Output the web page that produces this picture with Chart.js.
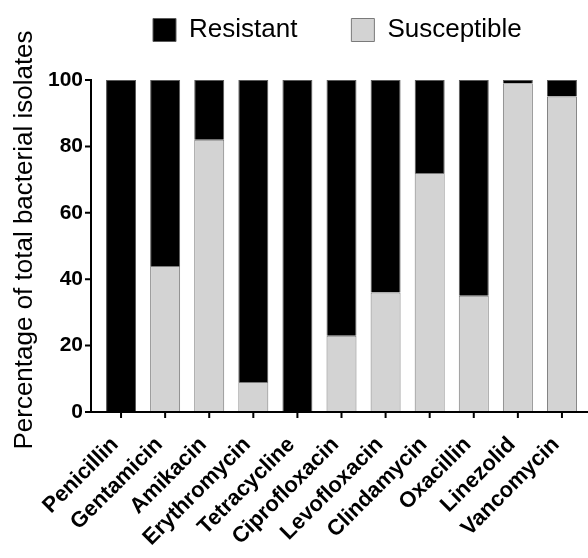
<!DOCTYPE html>
<html>
<head>
<meta charset="utf-8">
<script src="https://cdn.jsdelivr.net/npm/chart.js@4.4.1/dist/chart.umd.min.js"></script>
<style>
  html, body { margin: 0; padding: 0; background: #fff; }
  canvas { display: block; }
</style>
</head>
<body>
<canvas id="chart" width="588" height="558"></canvas>
<script>
// values (percent of isolates)
const antibiotics = ['Penicillin', 'Gentamicin', 'Amikacin', 'Erythromycin', 'Tetracycline',
  'Ciprofloxacin', 'Levofloxacin', 'Clindamycin', 'Oxacillin', 'Linezolid', 'Vancomycin'];
const susceptible = [0, 44, 82, 9, 0, 23, 36, 72, 35, 99, 95];
const resistant = [100, 56, 18, 91, 100, 77, 64, 28, 65, 1, 5];
const yTitle = 'Percentage of total bacterial isolates';

const FONT = '"Liberation Sans", Arial, Helvetica, sans-serif';
Chart.defaults.font.family = FONT;
Chart.defaults.color = '#000';

// Prism style axes: y axis sits a little left of the first bar
const prismAxes = {
  id: 'prismAxes',
  afterDatasetsDraw(chart) {
    const { ctx, chartArea, scales: { x, y } } = chart;
    const axisX = chartArea.left - 8;
    const y0 = y.getPixelForValue(0);
    const yTop = y.getPixelForValue(100);
    ctx.save();
    ctx.strokeStyle = '#000';
    ctx.lineWidth = 2;
    ctx.beginPath();
    ctx.moveTo(axisX, yTop - 1);
    ctx.lineTo(axisX, y0);
    ctx.lineTo(chart.width, y0);
    y.ticks.forEach(t => {
      const py = y.getPixelForValue(t.value);
      ctx.moveTo(axisX - 6, py);
      ctx.lineTo(axisX, py);
    });
    x.ticks.forEach((t, i) => {
      const px = x.getPixelForTick(i);
      ctx.moveTo(px, y0);
      ctx.lineTo(px, y0 + 6);
    });
    ctx.stroke();

    // y axis title
    ctx.translate(32, 240);
    ctx.rotate(-Math.PI / 2);
    ctx.font = '26px ' + FONT;
    ctx.fillStyle = '#000';
    ctx.textAlign = 'center';
    ctx.textBaseline = 'alphabetic';
    ctx.fillText(yTitle, 0, 0);
    ctx.restore();
  }
};

const legendSpace = {
  id: 'legendSpace',
  beforeInit(chart) {
    const fit = chart.legend.fit;
    chart.legend.fit = function () {
      fit.call(this);
      this.height += 27;
    };
  }
};

new Chart(document.getElementById('chart'), {
  type: 'bar',
  data: {
    labels: antibiotics,
    datasets: [
      {
        label: 'Susceptible',
        data: susceptible,
        backgroundColor: '#d3d3d3',
        borderColor: '#7a7a7a',
        borderWidth: 1,
      },
      {
        label: 'Resistant',
        data: resistant,
        backgroundColor: '#000',
        borderColor: '#5a5a5a',
        borderWidth: 1,
      },
    ],
  },
  options: {
    responsive: false,
    animation: false,
    layout: { padding: { top: -37, left: 0, right: 4, bottom: 0 } },
    datasets: { bar: { categoryPercentage: 1, barPercentage: 0.68 } },
    plugins: {
      tooltip: { enabled: false },
      legend: {
        position: 'top',
        fullSize: false,
        align: 'start',
        reverse: true,
        labels: {
          boxWidth: 23,
          boxHeight: 23,
          padding: 54,
          font: { size: 26 },
          color: '#000',
        },
      },
    },
    scales: {
      x: {
        stacked: true,
        grid: { display: false, drawTicks: false },
        border: { display: false },
        ticks: {
          autoSkip: false,
          minRotation: 45,
          maxRotation: 45,
          padding: 20,
          labelOffset: -6,
          font: { size: 22, weight: 'bold' },
        },
        afterFit(scale) {
          scale.height = 146;
          scale.paddingLeft = 0;
          scale.paddingRight = 0;
        },
      },
      y: {
        stacked: true,
        min: 0,
        max: 100,
        grid: { display: false, drawTicks: false },
        border: { display: false },
        ticks: {
          stepSize: 20,
          padding: 16,
          font: { size: 21, weight: 'bold' },
        },
        afterFit(scale) { scale.width = 99; },
      },
    },
  },
  plugins: [prismAxes, legendSpace],
});
</script>
</body>
</html>
